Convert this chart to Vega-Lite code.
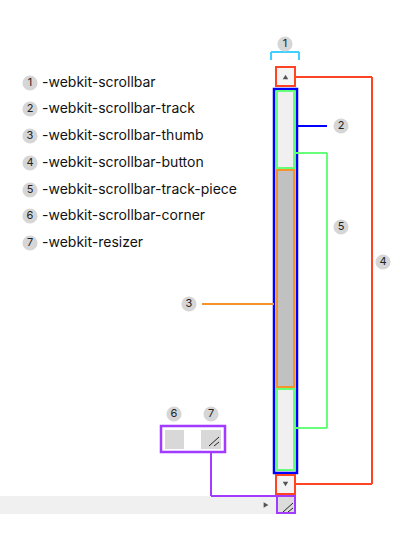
{
  "$schema": "https://vega.github.io/schema/vega-lite/v6.json",
  "autosize": {"type": "fit", "contains": "padding"},
  "width": 415,
  "height": 553,
  "padding": 0,
  "background": "white",
  "view": {"stroke": null},
  "config": {"font": "Inter"},
  "layer": [
    {
      "data": {"values": [
        {"x": 0, "x2": 276, "y": 496, "y2": 514, "fill": "#f0f0f0", "stroke": "transparent", "sw": 0},
        {"x": 274, "x2": 297, "y": 89, "y2": 473, "fill": "#f0f0f0", "stroke": "#0000ff", "sw": 2.5},
        {"x": 277, "x2": 294, "y": 91, "y2": 168, "fill": "#f0f0f0", "stroke": "#66ff7a", "sw": 2},
        {"x": 277, "x2": 294, "y": 170, "y2": 387, "fill": "#c1c1c1", "stroke": "#f5922a", "sw": 2},
        {"x": 277, "x2": 294, "y": 389, "y2": 470, "fill": "#f0f0f0", "stroke": "#66ff7a", "sw": 2},
        {"x": 276, "x2": 295, "y": 67, "y2": 86, "fill": "#f4f4f4", "stroke": "#ff4426", "sw": 2},
        {"x": 276, "x2": 295, "y": 475, "y2": 494, "fill": "#f4f4f4", "stroke": "#ff4426", "sw": 2},
        {"x": 277, "x2": 295, "y": 496, "y2": 513, "fill": "#dcdcdc", "stroke": "#a13bff", "sw": 2},
        {"x": 161, "x2": 225, "y": 426, "y2": 452, "fill": "white", "stroke": "#a13bff", "sw": 2.5},
        {"x": 165, "x2": 184, "y": 430, "y2": 449, "fill": "#d8d8d8", "stroke": "transparent", "sw": 0},
        {"x": 201, "x2": 221, "y": 430, "y2": 449, "fill": "#d8d8d8", "stroke": "transparent", "sw": 0}
      ]},
      "mark": {"type": "rect"},
      "encoding": {
        "x": {"field": "x", "type": "quantitative", "scale": {"domain": [0, 415], "nice": false}, "axis": null},
        "x2": {"field": "x2"},
        "y": {"field": "y", "type": "quantitative", "scale": {"domain": [0, 553], "nice": false, "reverse": true}, "axis": null},
        "y2": {"field": "y2"},
        "fill": {"field": "fill", "type": "nominal", "scale": null},
        "stroke": {"field": "stroke", "type": "nominal", "scale": null},
        "strokeWidth": {"field": "sw", "type": "quantitative", "scale": null}
      }
    },
    {
      "data": {"values": [
        {"x": 271, "y": 52, "x2": 299, "y2": 52, "c": "#3fd0ff", "w": 2},
        {"x": 271, "y": 52, "x2": 271, "y2": 60, "c": "#3fd0ff", "w": 2},
        {"x": 299, "y": 52, "x2": 299, "y2": 60, "c": "#3fd0ff", "w": 2},
        {"x": 295, "y": 77, "x2": 372, "y2": 77, "c": "#ff4426", "w": 2},
        {"x": 372, "y": 77, "x2": 372, "y2": 484, "c": "#ff4426", "w": 2},
        {"x": 295, "y": 484, "x2": 372, "y2": 484, "c": "#ff4426", "w": 2},
        {"x": 297, "y": 126, "x2": 327, "y2": 126, "c": "#0000ff", "w": 2},
        {"x": 294, "y": 153, "x2": 327, "y2": 153, "c": "#66ff7a", "w": 2},
        {"x": 327, "y": 153, "x2": 327, "y2": 428, "c": "#66ff7a", "w": 2},
        {"x": 294, "y": 428, "x2": 327, "y2": 428, "c": "#66ff7a", "w": 2},
        {"x": 202, "y": 304, "x2": 274, "y2": 304, "c": "#f5922a", "w": 2},
        {"x": 211, "y": 452, "x2": 211, "y2": 496, "c": "#a13bff", "w": 2},
        {"x": 211, "y": 496, "x2": 277, "y2": 496, "c": "#a13bff", "w": 2},
        {"x": 209, "y": 446, "x2": 219, "y2": 437, "c": "#222222", "w": 1},
        {"x": 214, "y": 446, "x2": 219, "y2": 442, "c": "#222222", "w": 1},
        {"x": 283, "y": 512, "x2": 293, "y2": 503, "c": "#222222", "w": 1},
        {"x": 288, "y": 512, "x2": 293, "y2": 508, "c": "#222222", "w": 1}
      ]},
      "mark": {"type": "rule"},
      "encoding": {
        "x": {"field": "x", "type": "quantitative", "scale": {"domain": [0, 415], "nice": false}, "axis": null},
        "x2": {"field": "x2"},
        "y": {"field": "y", "type": "quantitative", "scale": {"domain": [0, 553], "nice": false, "reverse": true}, "axis": null},
        "y2": {"field": "y2"},
        "color": {"field": "c", "type": "nominal", "scale": null},
        "strokeWidth": {"field": "w", "type": "quantitative", "scale": null}
      }
    },
    {
      "data": {"values": [
        {"x": 285.5, "y": 77, "shape": "triangle-up"},
        {"x": 285.5, "y": 484, "shape": "triangle-down"},
        {"x": 266, "y": 505, "shape": "triangle-right"}
      ]},
      "mark": {"type": "point", "filled": true, "size": 30, "color": "#555555", "opacity": 1},
      "encoding": {
        "x": {"field": "x", "type": "quantitative", "scale": {"domain": [0, 415], "nice": false}, "axis": null},
        "y": {"field": "y", "type": "quantitative", "scale": {"domain": [0, 553], "nice": false, "reverse": true}, "axis": null},
        "shape": {"field": "shape", "type": "nominal", "scale": null}
      }
    },
    {
      "data": {"values": [
        {"n": "1", "x": 285, "y": 44, "label": ""},
        {"n": "2", "x": 341, "y": 126, "label": ""},
        {"n": "5", "x": 341, "y": 227, "label": ""},
        {"n": "4", "x": 383, "y": 262, "label": ""},
        {"n": "3", "x": 189, "y": 304, "label": ""},
        {"n": "6", "x": 174, "y": 414, "label": ""},
        {"n": "7", "x": 211, "y": 414, "label": ""},
        {"n": "1", "x": 30, "y": 83, "label": "-webkit-scrollbar"},
        {"n": "2", "x": 30, "y": 109, "label": "-webkit-scrollbar-track"},
        {"n": "3", "x": 30, "y": 136, "label": "-webkit-scrollbar-thumb"},
        {"n": "4", "x": 30, "y": 163, "label": "-webkit-scrollbar-button"},
        {"n": "5", "x": 30, "y": 190, "label": "-webkit-scrollbar-track-piece"},
        {"n": "6", "x": 30, "y": 216, "label": "-webkit-scrollbar-corner"},
        {"n": "7", "x": 30, "y": 243, "label": "-webkit-resizer"}
      ]},
      "encoding": {
        "x": {"field": "x", "type": "quantitative", "scale": {"domain": [0, 415], "nice": false}, "axis": null},
        "y": {"field": "y", "type": "quantitative", "scale": {"domain": [0, 553], "nice": false, "reverse": true}, "axis": null}
      },
      "layer": [
        {"mark": {"type": "point", "filled": true, "size": 230, "color": "#d6d6d6", "opacity": 1}},
        {"mark": {"type": "text", "fontSize": 11, "color": "#222222"}, "encoding": {"text": {"field": "n"}}},
        {"mark": {"type": "text", "fontSize": 14, "align": "left", "dx": 12, "color": "#111111"}, "encoding": {"text": {"field": "label"}}}
      ]
    }
  ]
}
